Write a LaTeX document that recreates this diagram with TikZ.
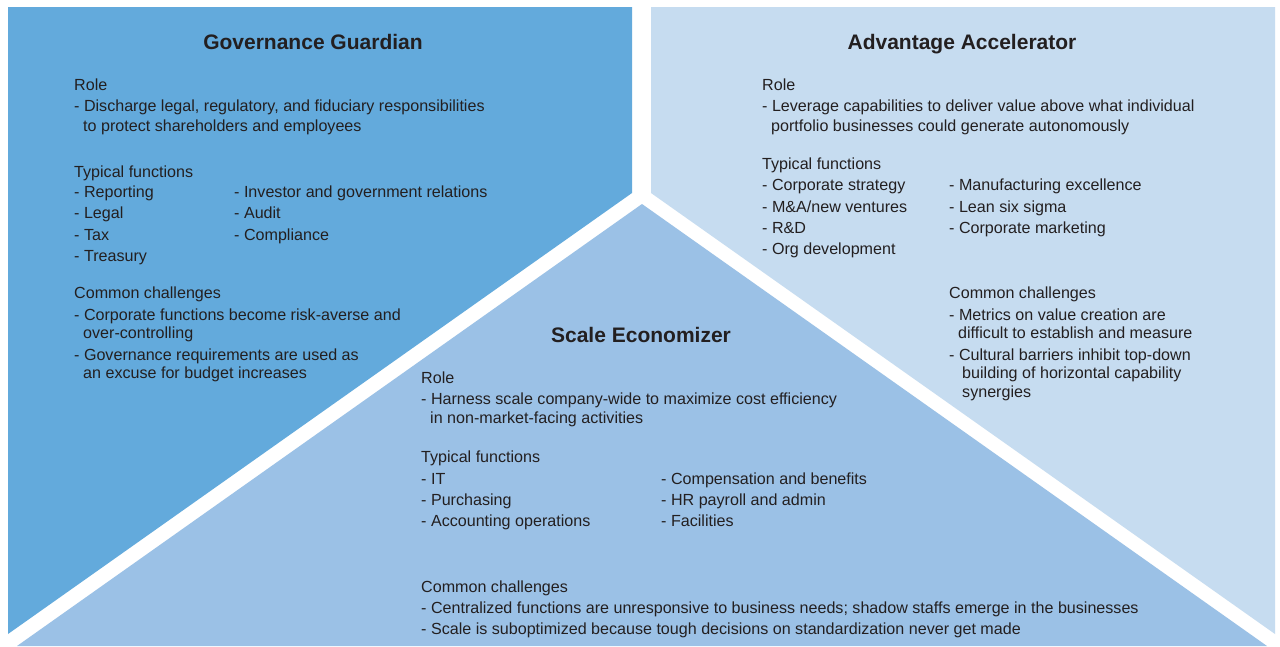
\documentclass[tikz,border=0pt]{standalone}
\usepackage{fontspec}
\setmainfont{Liberation Sans}
\definecolor{gg}{HTML}{63AADC}
\definecolor{aa}{HTML}{C6DCF0}
\definecolor{se}{HTML}{9BC1E6}
\definecolor{ink}{HTML}{231F20}
\tikzset{
  txt/.style={anchor=base west, inner sep=0pt, text=ink, font=\fontsize{16.1}{19}\selectfont},
  ttl/.style={anchor=base, inner sep=0pt, text=ink, font=\fontsize{21}{24}\selectfont\bfseries},
  panel/.style={draw=none}
}
\newcommand{\T}[4]{\node[txt] (#1) at (#2,#3) {#4};}
\begin{document}
\begin{tikzpicture}[x=1pt,y=-1pt]
\useasboundingbox[fill=white] (0,0) rectangle (1280,646);
% panels
\fill[gg] (8,7) -- (632,7) -- (632,193) -- (8,634) -- cycle;
\fill[aa] (651,7) -- (1275,7) -- (1275,634) -- (651,193) -- cycle;
\fill[se] (642,204) -- (1267,646) -- (17,646) -- cycle;
% Governance Guardian
\node[ttl] (ggt) at (313,49) {Governance Guardian};
\T{ggr}{74}{90}{Role}
\T{ggr1}{74}{111}{- Discharge legal, regulatory, and fiduciary responsibilities}
\T{ggr2}{83}{131}{to protect shareholders and employees}
\T{ggf}{74}{177}{Typical functions}
\T{ggf1}{74}{197}{- Reporting}
\T{ggf2}{74}{218}{- Legal}
\T{ggf3}{74}{240}{- Tax}
\T{ggf4}{74}{261}{- Treasury}
\T{ggf5}{234}{197}{- Investor and government relations}
\T{ggf6}{234}{218}{- Audit}
\T{ggf7}{234}{240}{- Compliance}
\T{ggc}{74}{298}{Common challenges}
\T{ggc1}{74}{320}{- Corporate functions become risk-averse and}
\T{ggc2}{83}{338}{over-controlling}
\T{ggc3}{74}{360}{- Governance requirements are used as}
\T{ggc4}{83}{378}{an excuse for budget increases}
% Advantage Accelerator
\node[ttl] (aat) at (962,49) {Advantage Accelerator};
\T{aar}{762}{90}{Role}
\T{aar1}{762}{111}{- Leverage capabilities to deliver value above what individual}
\T{aar2}{771}{131}{portfolio businesses could generate autonomously}
\T{aaf}{762}{169}{Typical functions}
\T{aaf1}{762}{190}{- Corporate strategy}
\T{aaf2}{762}{212}{- M\&A/new ventures}
\T{aaf3}{762}{233}{- R\&D}
\T{aaf4}{762}{254}{- Org development}
\T{aaf5}{949}{190}{- Manufacturing excellence}
\T{aaf6}{949}{212}{- Lean six sigma}
\T{aaf7}{949}{233}{- Corporate marketing}
\T{aac}{949}{298}{Common challenges}
\T{aac1}{949}{320}{- Metrics on value creation are}
\T{aac2}{958}{338}{difficult to establish and measure}
\T{aac3}{949}{360}{- Cultural barriers inhibit top-down}
\T{aac4}{962}{378}{building of horizontal capability}
\T{aac5}{962}{397}{synergies}
% Scale Economizer
\node[ttl] (set) at (641,342) {Scale Economizer};
\T{ser}{421}{383}{Role}
\T{ser1}{421}{404}{- Harness scale company-wide to maximize cost efficiency}
\T{ser2}{430}{423}{in non-market-facing activities}
\T{sef}{421}{462}{Typical functions}
\T{sef1}{421}{484}{- IT}
\T{sef2}{421}{505}{- Purchasing}
\T{sef3}{421}{526}{- Accounting operations}
\T{sef4}{661}{484}{- Compensation and benefits}
\T{sef5}{661}{505}{- HR payroll and admin}
\T{sef6}{661}{526}{- Facilities}
\T{sec}{421}{592}{Common challenges}
\T{sec1}{421}{613}{- Centralized functions are unresponsive to business needs; shadow staffs emerge in the businesses}
\T{sec2}{421}{634}{- Scale is suboptimized because tough decisions on standardization never get made}
\end{tikzpicture}
\end{document}
